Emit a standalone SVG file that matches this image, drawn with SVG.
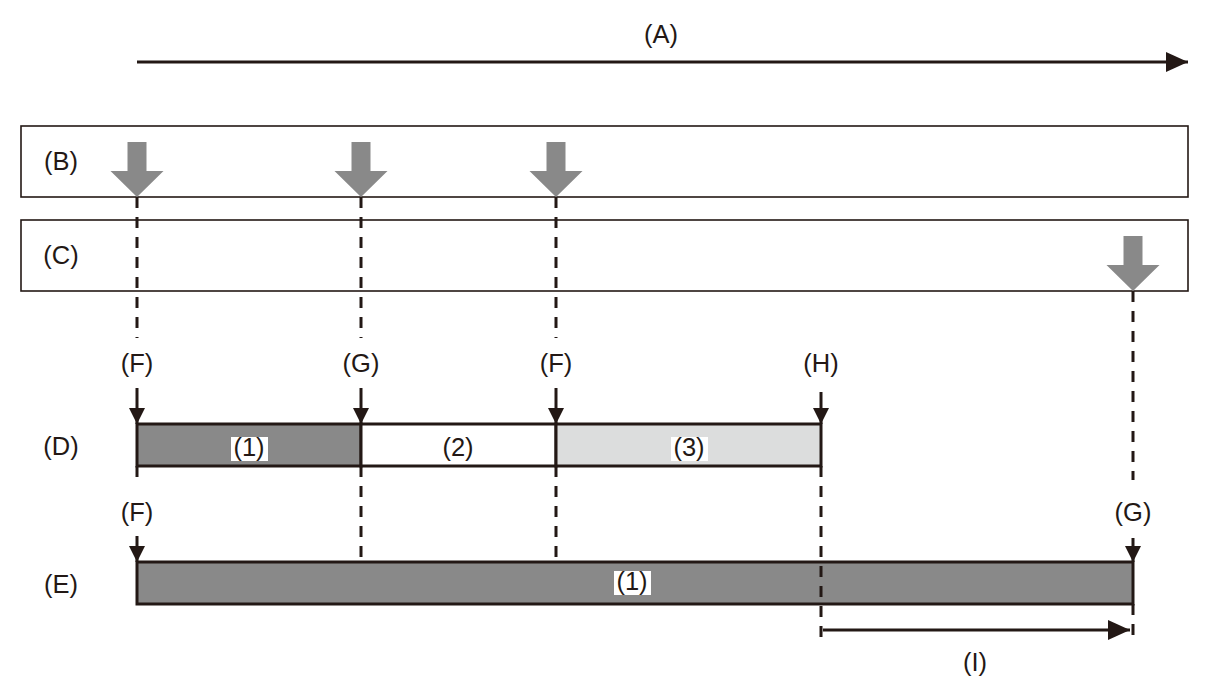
<svg xmlns="http://www.w3.org/2000/svg" width="1214" height="689" viewBox="0 0 1214 689">
<style>
text{font-family:"Liberation Sans",Arial,sans-serif;font-size:25.5px;fill:#231815;text-anchor:middle}
.box{fill:#fff;stroke:#231815;stroke-width:1.6}
.bar{stroke:#231815;stroke-width:3}
.dash{stroke:#231815;stroke-width:3;stroke-dasharray:11 9;fill:none}
.sol{stroke:#231815;stroke-width:3;fill:none}
.big{stroke:#231815;stroke-width:3;fill:none}
.gray{fill:#898989}
.lab{fill:#fff}
</style>
<defs>
<marker id="sh" markerUnits="userSpaceOnUse" markerWidth="16" markerHeight="16" refX="16" refY="8" orient="auto"><path d="M0,0 L16,8 L0,16 z" fill="#231815"/></marker>
<marker id="bh" markerUnits="userSpaceOnUse" markerWidth="22" markerHeight="20" refX="22" refY="10" orient="auto"><path d="M0,0 L22,10 L0,20 z" fill="#231815"/></marker>
<path id="garrow" d="M-9.5,0 H9.5 V29 H26.5 L0,55 L-26.5,29 H-9.5 Z"/>
</defs>

<g id="axis-A">
<line class="big" x1="137" y1="62" x2="1188" y2="62" marker-end="url(#bh)"/>
<text x="661" y="43">(A)</text>
</g>

<g id="row-B">
<rect class="box" x="21" y="126" width="1167" height="71"/>
<text x="61" y="170">(B)</text>
<use href="#garrow" class="gray" x="137" y="142"/>
<use href="#garrow" class="gray" x="361" y="142"/>
<use href="#garrow" class="gray" x="556" y="142"/>
</g>

<g id="row-C">
<rect class="box" x="21" y="220" width="1167" height="71"/>
<text x="61" y="264">(C)</text>
<use href="#garrow" class="gray" x="1133" y="236"/>
</g>

<g id="row-D">
<rect class="bar" x="137" y="424" width="224" height="42" fill="#898989"/>
<rect class="bar" x="361" y="424" width="195" height="42" fill="#fff"/>
<rect class="bar" x="556" y="424" width="265" height="42" fill="#dcdddd"/>
<rect class="lab" x="231" y="437" width="37" height="24"/>
<text x="249" y="456">(1)</text>
<text x="458" y="456">(2)</text>
<rect class="lab" x="671" y="437" width="37" height="24"/>
<text x="689" y="456">(3)</text>
<text x="61" y="455">(D)</text>
</g>

<g id="row-E">
<rect class="bar" x="137" y="562" width="996" height="42" fill="#898989"/>
<rect class="lab" x="614" y="571" width="37" height="24"/>
<text x="632" y="590">(1)</text>
<text x="61" y="593">(E)</text>
</g>

<g id="connectors">
<line class="dash" x1="137" y1="197" x2="137" y2="338"/>
<line class="dash" x1="361" y1="197" x2="361" y2="338"/>
<line class="dash" x1="556" y1="197" x2="556" y2="338"/>
<line class="dash" x1="1133" y1="291" x2="1133" y2="480"/>
<line class="sol" x1="137" y1="388" x2="137" y2="424" marker-end="url(#sh)"/>
<line class="sol" x1="361" y1="388" x2="361" y2="424" marker-end="url(#sh)"/>
<line class="sol" x1="556" y1="388" x2="556" y2="424" marker-end="url(#sh)"/>
<line class="sol" x1="821" y1="392" x2="821" y2="424" marker-end="url(#sh)"/>
<line class="dash" x1="137" y1="466" x2="137" y2="484"/>
<line class="dash" x1="361" y1="466" x2="361" y2="562"/>
<line class="dash" x1="556" y1="466" x2="556" y2="562"/>
<line class="dash" x1="821" y1="466" x2="821" y2="644"/>
<line class="dash" x1="1133" y1="604" x2="1133" y2="644"/>
<line class="sol" x1="137" y1="536" x2="137" y2="562" marker-end="url(#sh)"/>
<line class="sol" x1="1133" y1="538" x2="1133" y2="562" marker-end="url(#sh)"/>
<line class="sol" x1="823" y1="630" x2="1130" y2="630" marker-end="url(#bh)"/>
</g>

<g id="labels">
<text x="137" y="372">(F)</text>
<text x="361" y="372">(G)</text>
<text x="556" y="372">(F)</text>
<text x="821" y="372">(H)</text>
<text x="137" y="521">(F)</text>
<text x="1133" y="521">(G)</text>
<text x="975" y="671">(I)</text>
</g>
</svg>
